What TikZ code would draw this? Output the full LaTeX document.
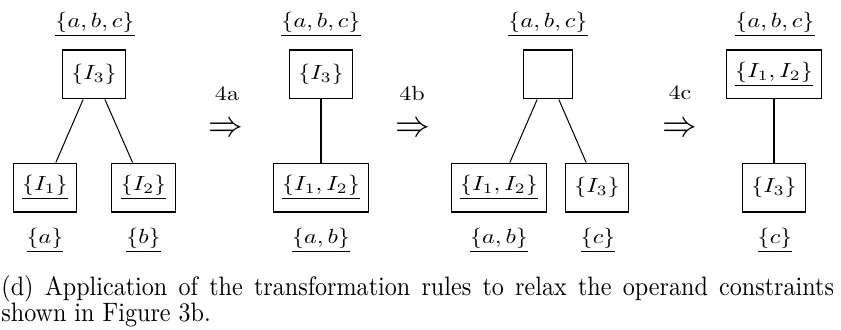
\documentclass[tikz,border=0pt]{standalone}
\usepackage{graphicx}
\newcommand{\sx}[1]{\scalebox{1.176}[1]{#1}}
\newcommand{\bigimp}{\scalebox{1.176}[1.25]{\Large$\Rightarrow$}}
\tikzset{
  pbox/.style={draw, line width=0.5pt, inner sep=0pt, minimum height=23.9pt},
  wsmall/.style={minimum width=31.2pt},
  wlarge/.style={minimum width=46pt},
  wempty/.style={minimum width=23.9pt},
  lbl/.style={inner sep=0pt},
  edge/.style={line width=0.5pt}
}
\begin{document}
\begin{tikzpicture}[x=0.488pt, y=-0.488pt]
\useasboundingbox (0,0) rectangle (841,330);
% panel 1
\node[lbl] (t1) at (95,24) {\sx{\underline{$\{a,b,c\}$}}};
\node[pbox,wsmall] (p1) at (94,74.5) {\sx{$\{I_3\}$}};
\node[pbox,wsmall] (c1a) at (45,187.5) {\sx{\underline{$\{I_1\}$}}};
\node[pbox,wsmall] (c1b) at (143.5,187.5) {\sx{\underline{$\{I_2\}$}}};
\node[lbl] (l1a) at (45,240) {\sx{\underline{$\{a\}$}}};
\node[lbl] (l1b) at (143.5,240) {\sx{\underline{$\{b\}$}}};
\draw[edge] (p1) -- (c1a);
\draw[edge] (p1) -- (c1b);
% arrow 4a
\node[lbl] (r1) at (227,94) {\sx{4a}};
\node[lbl] (a1) at (226,130) {\bigimp};
% panel 2
\node[lbl] (t2) at (321,24) {\sx{\underline{$\{a,b,c\}$}}};
\node[pbox,wsmall] (p2) at (321,74.5) {\sx{$\{I_3\}$}};
\node[pbox,wlarge] (c2) at (321,187.5) {\sx{\underline{$\{I_1,I_2\}$}}};
\node[lbl] (l2) at (321,240) {\sx{\underline{$\{a,b\}$}}};
\draw[edge] (p2) -- (c2);
% arrow 4b
\node[lbl] (r2) at (412,94) {\sx{4b}};
\node[lbl] (a2) at (413,130) {\bigimp};
% panel 3
\node[lbl] (t3) at (548,24) {\sx{\underline{$\{a,b,c\}$}}};
\node[pbox,wempty] (p3) at (548,74.5) {};
\node[pbox,wlarge] (c3a) at (499,187.5) {\sx{\underline{$\{I_1,I_2\}$}}};
\node[pbox,wsmall] (c3b) at (597,187.5) {\sx{$\{I_3\}$}};
\node[lbl] (l3a) at (499,240) {\sx{\underline{$\{a,b\}$}}};
\node[lbl] (l3b) at (598,240) {\sx{\underline{$\{c\}$}}};
\draw[edge] (p3) -- (c3a);
\draw[edge] (p3) -- (c3b);
% arrow 4c
\node[lbl] (r3) at (680,93) {\sx{4c}};
\node[lbl] (a3) at (680,130) {\bigimp};
% panel 4
\node[lbl] (t4) at (775,24) {\sx{\underline{$\{a,b,c\}$}}};
\node[pbox,wlarge] (p4) at (774,74.5) {\sx{\underline{$\{I_1,I_2\}$}}};
\node[pbox,wsmall] (c4) at (774,187.5) {\sx{$\{I_3\}$}};
\node[lbl] (l4) at (775,240) {\sx{\underline{$\{c\}$}}};
\draw[edge] (p4) -- (c4);
% caption
\node[lbl, anchor=base west] (cap) at (1,295) {\scalebox{1.176}[1.3]{\parbox[t]{345.5pt}{\fontsize{10}{10.1}\selectfont (d) Application of the transformation rules to relax the operand constraints shown in Figure 3b.}}};
\end{tikzpicture}
\end{document}
